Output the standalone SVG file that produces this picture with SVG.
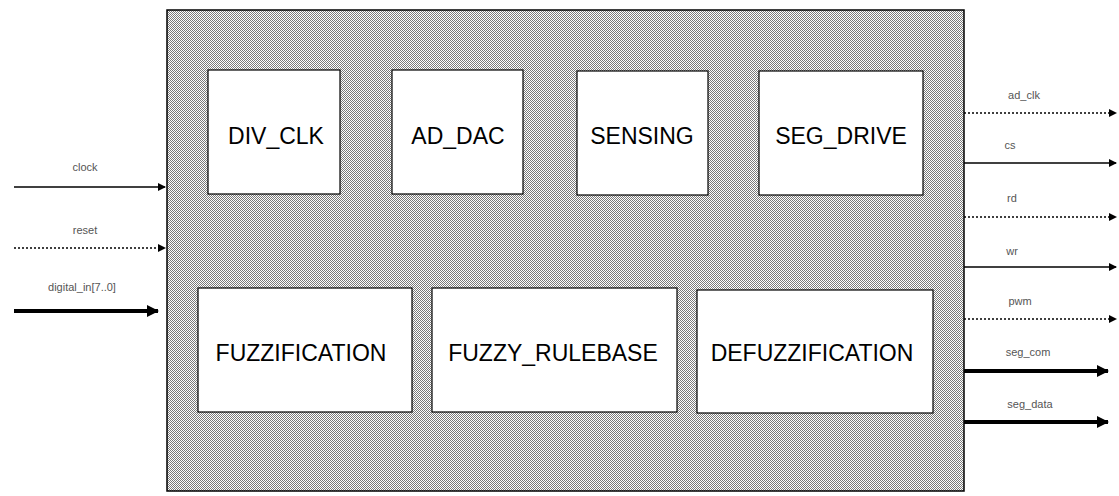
<svg xmlns="http://www.w3.org/2000/svg" width="1119" height="496" viewBox="0 0 1119 496">
<style>
.blk{fill:#fff;stroke:#000;stroke-width:1.2}
.bt{font-family:"Liberation Sans",Arial,sans-serif;font-size:23px;fill:#000;text-anchor:middle;dominant-baseline:middle}
.sig{font-family:"Liberation Sans",Arial,sans-serif;font-size:11px;fill:#555;text-anchor:middle}
.thin{stroke:#000;stroke-width:1.3;fill:none}
.dot{stroke:#000;stroke-width:1.3;fill:none;stroke-dasharray:2 2}
.bus{stroke:#000;stroke-width:4;fill:none}
</style>
<defs>
<pattern id="dither" width="2" height="2" patternUnits="userSpaceOnUse">
<rect width="2" height="2" fill="#fff"/>
<rect x="0" y="0" width="1" height="1" fill="#7a7a7a"/>
<rect x="1" y="1" width="1" height="1" fill="#7a7a7a"/>
</pattern>
<marker id="ah" markerWidth="8" markerHeight="8" refX="7" refY="4" orient="auto" markerUnits="userSpaceOnUse">
<path d="M0,0 L8,4 L0,8 Z" fill="#000"/>
</marker>
<marker id="ahb" markerWidth="12" markerHeight="12" refX="11" refY="6" orient="auto" markerUnits="userSpaceOnUse">
<path d="M0,0 L12,6 L0,12 Z" fill="#000"/>
</marker>
</defs>
<rect width="1119" height="496" fill="#fff"/>
<g id="top">
<rect x="167" y="10" width="797" height="481" fill="url(#dither)" stroke="#000" stroke-width="1.5"/>
</g>
<g id="div_clk"><rect class="blk" x="208" y="70" width="132" height="124"/><text class="bt" x="276" y="138">DIV_CLK</text></g>
<g id="ad_dac"><rect class="blk" x="392" y="70" width="131" height="124"/><text class="bt" x="458" y="138">AD_DAC</text></g>
<g id="sensing"><rect class="blk" x="577" y="71" width="131" height="124"/><text class="bt" x="642" y="138">SENSING</text></g>
<g id="seg_drive"><rect class="blk" x="759" y="71" width="164" height="124"/><text class="bt" x="841" y="138">SEG_DRIVE</text></g>
<g id="fuzzification"><rect class="blk" x="198" y="288" width="214" height="124"/><text class="bt" x="301" y="355">FUZZIFICATION</text></g>
<g id="fuzzy_rulebase"><rect class="blk" x="432" y="288" width="245" height="124"/><text class="bt" x="553" y="355">FUZZY_RULEBASE</text></g>
<g id="defuzzification"><rect class="blk" x="697" y="290" width="236" height="123"/><text class="bt" x="812" y="355">DEFUZZIFICATION</text></g>
<g id="connectors">
<line class="thin" x1="14" y1="187" x2="165" y2="187" marker-end="url(#ah)"/>
<line class="dot" x1="14" y1="248" x2="165" y2="248" marker-end="url(#ah)"/>
<line class="bus" x1="14" y1="311" x2="158" y2="311" marker-end="url(#ahb)"/>
<line class="dot" x1="964" y1="113" x2="1116" y2="113" marker-end="url(#ah)"/>
<line class="thin" x1="964" y1="163" x2="1116" y2="163" marker-end="url(#ah)"/>
<line class="dot" x1="964" y1="217" x2="1116" y2="217" marker-end="url(#ah)"/>
<line class="thin" x1="964" y1="267" x2="1116" y2="267" marker-end="url(#ah)"/>
<line class="dot" x1="964" y1="319" x2="1116" y2="319" marker-end="url(#ah)"/>
<line class="bus" x1="964" y1="371" x2="1108" y2="371" marker-end="url(#ahb)"/>
<line class="bus" x1="964" y1="422" x2="1108" y2="422" marker-end="url(#ahb)"/>
</g>
<g id="labels">
<text class="sig" x="85" y="171">clock</text>
<text class="sig" x="85" y="234">reset</text>
<text class="sig" x="82" y="291">digital_in[7..0]</text>
<text class="sig" x="1024" y="99">ad_clk</text>
<text class="sig" x="1010" y="149">cs</text>
<text class="sig" x="1012" y="202">rd</text>
<text class="sig" x="1012" y="255">wr</text>
<text class="sig" x="1020" y="305">pwm</text>
<text class="sig" x="1028" y="356">seg_com</text>
<text class="sig" x="1030" y="408">seg_data</text>
</g>
</svg>
